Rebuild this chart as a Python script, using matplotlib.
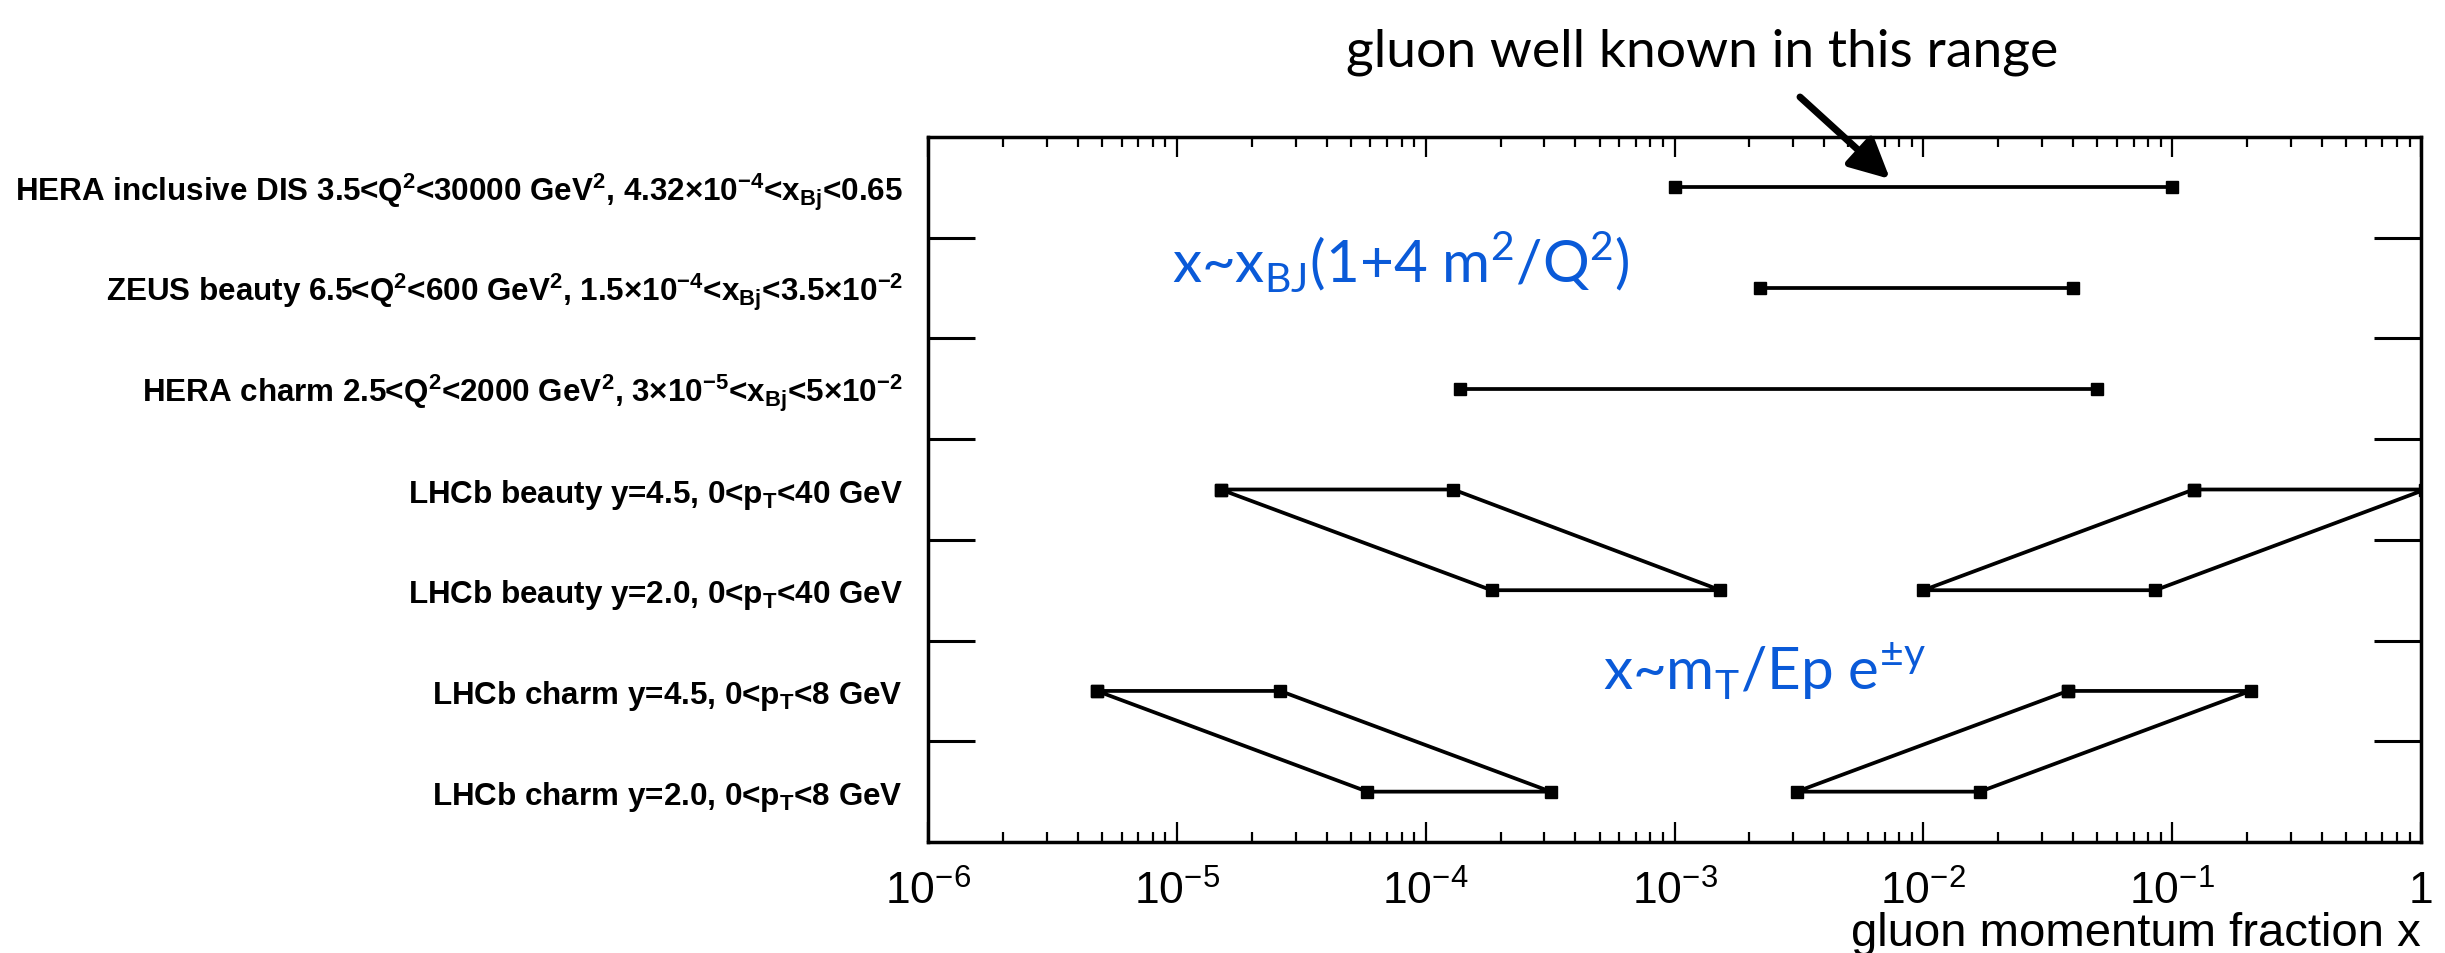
import matplotlib
matplotlib.use("Agg")
import matplotlib.pyplot as plt
import matplotlib.transforms as mtransforms
from matplotlib.ticker import FixedLocator, FixedFormatter, LogLocator

# ---------------- data ----------------
row_labels = [
    r"HERA inclusive DIS 3.5<Q$^{\mathregular{2}}$<30000 GeV$^{\mathregular{2}}$, 4.32×10$^{\mathregular{-4}}$<x$_{\mathregular{Bj}}$<0.65",
    r"ZEUS beauty 6.5<Q$^{\mathregular{2}}$<600 GeV$^{\mathregular{2}}$, 1.5×10$^{\mathregular{-4}}$<x$_{\mathregular{Bj}}$<3.5×10$^{\mathregular{-2}}$",
    r"HERA charm 2.5<Q$^{\mathregular{2}}$<2000 GeV$^{\mathregular{2}}$, 3×10$^{\mathregular{-5}}$<x$_{\mathregular{Bj}}$<5×10$^{\mathregular{-2}}$",
    r"LHCb beauty y=4.5, 0<p$_{\mathregular{T}}$<40 GeV",
    r"LHCb beauty y=2.0, 0<p$_{\mathregular{T}}$<40 GeV",
    r"LHCb charm y=4.5, 0<p$_{\mathregular{T}}$<8 GeV",
    r"LHCb charm y=2.0, 0<p$_{\mathregular{T}}$<8 GeV",
]

# HERA-type ranges: (row index, x_min, x_max)
hera_rows = [0, 1, 2]
hera_xmin = [1.0e-3, 2.2e-3, 1.38e-4]
hera_xmax = [1.0e-1, 4.0e-2, 5.0e-2]

# LHCb ranges (x_min, x_max) for forward (y=4.5) and central (y=2.0) rows
beauty_y45_low = [1.50e-5, 1.29e-4]
beauty_y20_low = [1.84e-4, 1.53e-3]
beauty_y20_high = [1.00e-2, 8.55e-2]
beauty_y45_high = [1.22e-1, 1.04]
charm_y45_low = [4.77e-6, 2.60e-5]
charm_y20_low = [5.83e-5, 3.18e-4]
charm_y20_high = [3.10e-3, 1.69e-2]
charm_y45_high = [3.81e-2, 2.065e-1]

xtick_vals = [1e-6, 1e-5, 1e-4, 1e-3, 1e-2, 1e-1, 1.0]
xtick_labels = [r"$\mathregular{10^{-6}}$", r"$\mathregular{10^{-5}}$", r"$\mathregular{10^{-4}}$",
                r"$\mathregular{10^{-3}}$", r"$\mathregular{10^{-2}}$", r"$\mathregular{10^{-1}}$", "1"]

# ---------------- figure ----------------
W, H = 2445, 954
fig = plt.figure(figsize=(W / 100, H / 100), dpi=100)
ax_l, ax_r, ax_t, ax_b = 928, 2421, 138, 843
ax = fig.add_axes([ax_l / W, 1 - ax_b / H, (ax_r - ax_l) / W, (ax_b - ax_t) / H])

ax.set_xscale("log")
ax.set_xlim(1e-6, 1.0)
ax.set_ylim(7, 0)

lw = 2.7
ms = 8.5
style = dict(color="black", lw=lw, marker="s", ms=ms, mfc="black", mec="black", solid_capstyle="butt")

for r, a, b in zip(hera_rows, hera_xmin, hera_xmax):
    yc = r + 0.5
    ax.plot([a, b], [yc, yc], **style)

def quad(top_pair, bot_pair, r_top, r_bot):
    xs = [top_pair[0], top_pair[1], bot_pair[1], bot_pair[0], top_pair[0]]
    ys = [r_top + 0.5, r_top + 0.5, r_bot + 0.5, r_bot + 0.5, r_top + 0.5]
    ax.plot(xs, ys, **style)

quad(beauty_y45_low, beauty_y20_low, 3, 4)
quad(beauty_y45_high, beauty_y20_high, 3, 4)
quad(charm_y45_low, charm_y20_low, 5, 6)
quad(charm_y45_high, charm_y20_high, 5, 6)

# axes styling
for s in ax.spines.values():
    s.set_linewidth(2.5)

ax.xaxis.set_major_locator(FixedLocator(xtick_vals))
ax.xaxis.set_major_formatter(FixedFormatter(xtick_labels))
ax.xaxis.set_minor_locator(LogLocator(base=10, subs=range(2, 10), numticks=20))
ax.tick_params(axis="x", which="major", direction="in", top=True, bottom=True,
               length=14.5, width=1.6, pad=20, labelsize=32)
ax.tick_params(axis="x", which="minor", direction="in", top=True, bottom=True,
               length=7.2, width=1.6)
for t in ax.get_xticklabels():
    t.set_fontfamily("Liberation Sans")

ax.yaxis.set_major_locator(FixedLocator([1, 2, 3, 4, 5, 6]))
ax.yaxis.set_minor_locator(FixedLocator([]))
ax.tick_params(axis="y", which="major", direction="in", left=True, right=True,
               length=34, width=2.2, labelleft=False, labelright=False)

# row labels
trans = mtransforms.blended_transform_factory(fig.transFigure, ax.transData)
for i, lab in enumerate(row_labels):
    ax.text(903 / W, i + 0.5 + 0.12, lab, transform=trans, ha="right", va="baseline",
            fontsize=22.6, fontweight="bold", family="Liberation Sans")

# x-axis title
fig.text(ax_r / W, 1 - 946 / H, "gluon momentum fraction x", ha="right", va="baseline",
         fontsize=34, family="Liberation Sans")

# annotations
blue = "#0a5ad8"
fig.text(1172 / W, 1 - 283 / H, r"x~x$_{\mathregular{BJ}}$(1+4 m$^{\mathregular{2}}$/Q$^{\mathregular{2}}$)",
         ha="left", va="baseline", fontsize=42, color=blue, family="Lato")
fig.text(1603 / W, 1 - 690 / H, r"x~m$_{\mathregular{T}}$/Ep e$^{\mathregular{±y}}$",
         ha="left", va="baseline", fontsize=42, color=blue, family="Lato")
fig.text(1702 / W, 1 - 66 / H, "gluon well known in this range", ha="center", va="baseline",
         fontsize=38.5, color="black", family="Lato")

ax.annotate("", xy=(1890 / W, 1 - 180 / H), xycoords="figure fraction",
            xytext=(1800 / W, 1 - 98 / H), textcoords="figure fraction",
            arrowprops=dict(arrowstyle="-|>,head_length=1.2,head_width=0.6", lw=5,
                            color="black", shrinkA=0, shrinkB=0, mutation_scale=20),
            annotation_clip=False)

fig.savefig("out.png", dpi=100)
